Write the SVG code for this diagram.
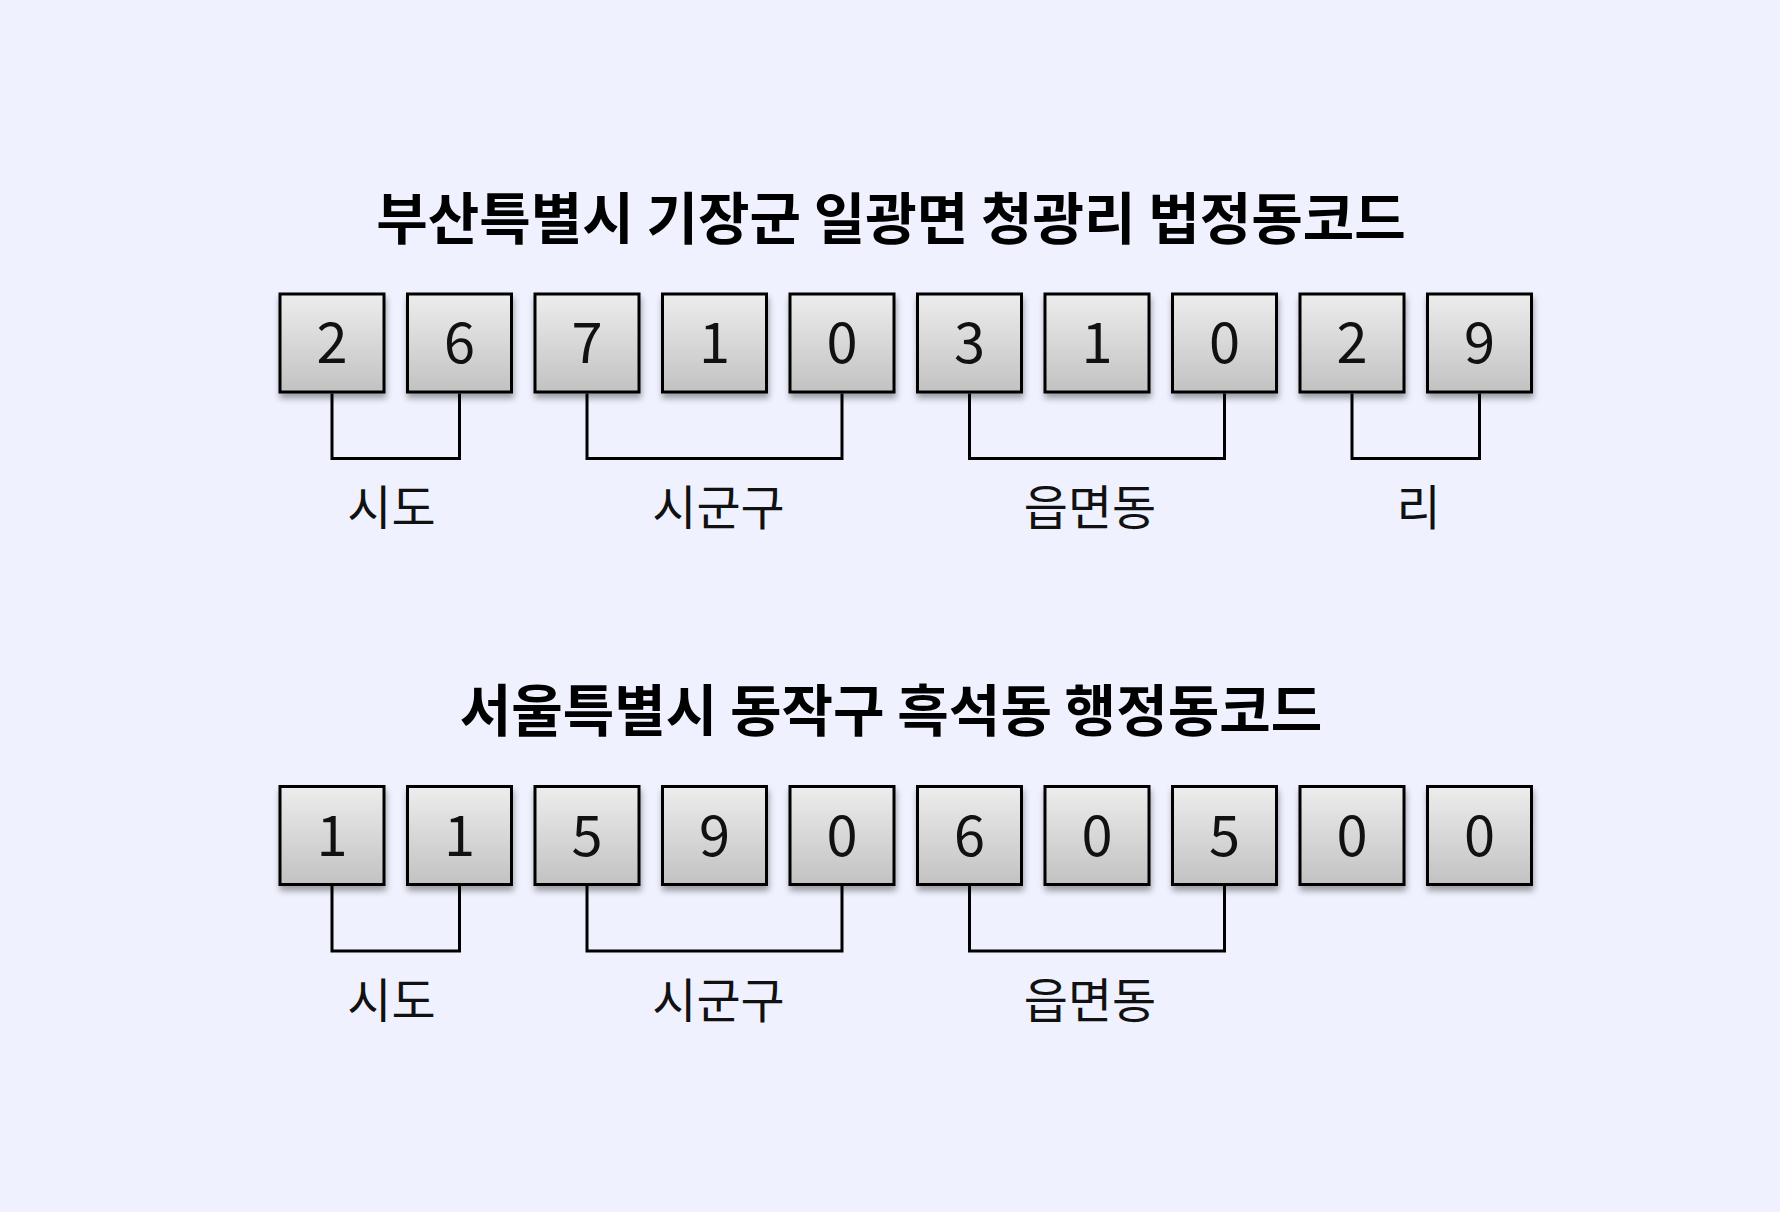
<svg xmlns="http://www.w3.org/2000/svg" width="1780" height="1212" viewBox="0 0 1780 1212">
  <defs>
    <linearGradient id="boxGrad" x1="0" y1="0" x2="0" y2="1">
      <stop offset="0" stop-color="#ededed"/>
      <stop offset="1" stop-color="#c2c2c2"/>
    </linearGradient>
    <filter id="shadow" x="-20%" y="-20%" width="140%" height="150%">
      <feGaussianBlur in="SourceAlpha" stdDeviation="3"/>
      <feOffset dx="1" dy="5" result="b"/>
      <feComponentTransfer><feFuncA type="linear" slope="0.35"/></feComponentTransfer>
      <feMerge><feMergeNode/><feMergeNode in="SourceGraphic"/></feMerge>
    </filter>
  </defs>
  <style>
    .box { fill: url(#boxGrad); stroke: #000; stroke-width: 3; filter: url(#shadow); }
    .digit { font-family: "Noto Sans CJK KR", "Noto Sans", sans-serif; font-size: 56px; font-weight: 400; fill: #111; text-anchor: middle; }
    .title { font-family: "Noto Sans CJK KR", sans-serif; font-size: 56px; font-weight: bold; fill: #000; text-anchor: middle; }
    .label { font-family: "Noto Sans CJK KR", sans-serif; font-size: 48px; fill: #111; text-anchor: middle; }
    .br { fill: none; stroke: #000; stroke-width: 3; }
  </style>
  <rect width="1780" height="1212" fill="#eff2fe"/>

  <g id="title1"><text class="title" x="891" y="239">부산특별시 기장군 일광면 청광리 법정동코드</text></g>
  <g id="title2"><text class="title" x="891" y="731">서울특별시 동작구 흑석동 행정동코드</text></g>

  <g id="row1">
    <g id="r1d0"><rect class="box" x="280" y="294" width="104" height="98"/><text class="digit" x="332" y="363">2</text></g>
    <g id="r1d1"><rect class="box" x="407.5" y="294" width="104" height="98"/><text class="digit" x="459.5" y="363">6</text></g>
    <g id="r1d2"><rect class="box" x="535" y="294" width="104" height="98"/><text class="digit" x="587" y="363">7</text></g>
    <g id="r1d3"><rect class="box" x="662.5" y="294" width="104" height="98"/><text class="digit" x="714.5" y="363">1</text></g>
    <g id="r1d4"><rect class="box" x="790" y="294" width="104" height="98"/><text class="digit" x="842" y="363">0</text></g>
    <g id="r1d5"><rect class="box" x="917.5" y="294" width="104" height="98"/><text class="digit" x="969.5" y="363">3</text></g>
    <g id="r1d6"><rect class="box" x="1045" y="294" width="104" height="98"/><text class="digit" x="1097" y="363">1</text></g>
    <g id="r1d7"><rect class="box" x="1172.5" y="294" width="104" height="98"/><text class="digit" x="1224.5" y="363">0</text></g>
    <g id="r1d8"><rect class="box" x="1300" y="294" width="104" height="98"/><text class="digit" x="1352" y="363">2</text></g>
    <g id="r1d9"><rect class="box" x="1427.5" y="294" width="104" height="98"/><text class="digit" x="1479.5" y="363">9</text></g>
  </g>

  <g id="row2">
    <g id="r2d0"><rect class="box" x="280" y="786.5" width="104" height="98"/><text class="digit" x="332" y="855.5">1</text></g>
    <g id="r2d1"><rect class="box" x="407.5" y="786.5" width="104" height="98"/><text class="digit" x="459.5" y="855.5">1</text></g>
    <g id="r2d2"><rect class="box" x="535" y="786.5" width="104" height="98"/><text class="digit" x="587" y="855.5">5</text></g>
    <g id="r2d3"><rect class="box" x="662.5" y="786.5" width="104" height="98"/><text class="digit" x="714.5" y="855.5">9</text></g>
    <g id="r2d4"><rect class="box" x="790" y="786.5" width="104" height="98"/><text class="digit" x="842" y="855.5">0</text></g>
    <g id="r2d5"><rect class="box" x="917.5" y="786.5" width="104" height="98"/><text class="digit" x="969.5" y="855.5">6</text></g>
    <g id="r2d6"><rect class="box" x="1045" y="786.5" width="104" height="98"/><text class="digit" x="1097" y="855.5">0</text></g>
    <g id="r2d7"><rect class="box" x="1172.5" y="786.5" width="104" height="98"/><text class="digit" x="1224.5" y="855.5">5</text></g>
    <g id="r2d8"><rect class="box" x="1300" y="786.5" width="104" height="98"/><text class="digit" x="1352" y="855.5">0</text></g>
    <g id="r2d9"><rect class="box" x="1427.5" y="786.5" width="104" height="98"/><text class="digit" x="1479.5" y="855.5">0</text></g>
  </g>

  <g id="connectors">
    <path class="br" d="M332 393.5 V458.5 H459.5 V393.5"/>
    <path class="br" d="M587 393.5 V458.5 H842 V393.5"/>
    <path class="br" d="M969.5 393.5 V458.5 H1224.5 V393.5"/>
    <path class="br" d="M1352 393.5 V458.5 H1479.5 V393.5"/>
    <path class="br" d="M332 886 V951 H459.5 V886"/>
    <path class="br" d="M587 886 V951 H842 V886"/>
    <path class="br" d="M969.5 886 V951 H1224.5 V886"/>
  </g>

  <g id="labels1">
    <text class="label" x="391.5" y="525">시도</text>
    <text class="label" x="718.5" y="525">시군구</text>
    <text class="label" x="1090" y="525">읍면동</text>
    <text class="label" x="1418.5" y="525">리</text>
  </g>
  <g id="labels2">
    <text class="label" x="391.5" y="1017.5">시도</text>
    <text class="label" x="718.5" y="1017.5">시군구</text>
    <text class="label" x="1090" y="1017.5">읍면동</text>
  </g>
</svg>
